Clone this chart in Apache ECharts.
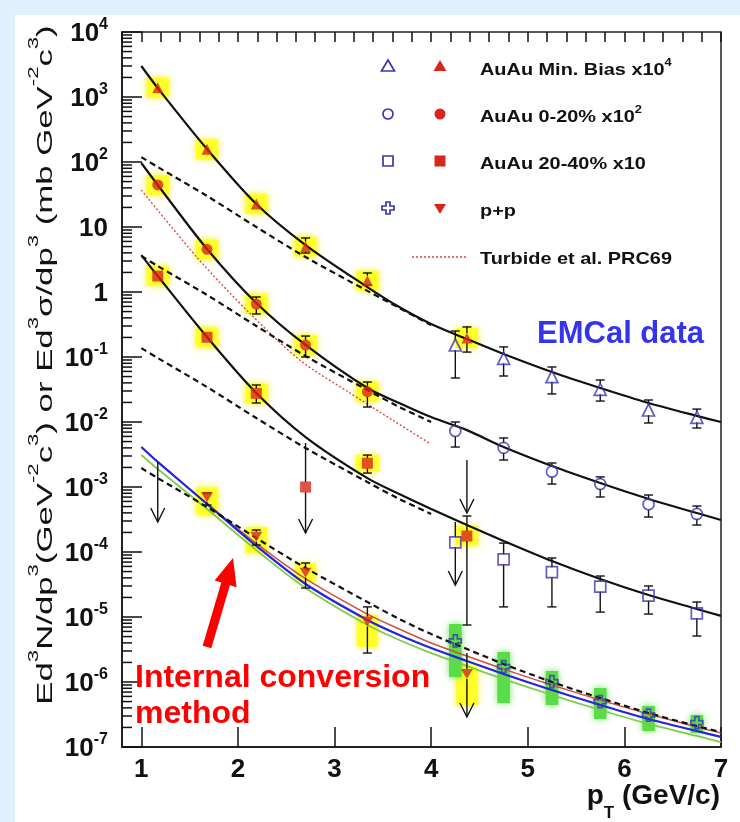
<!DOCTYPE html>
<html>
<head>
<meta charset="utf-8">
<script src="https://cdn.jsdelivr.net/npm/echarts@6/dist/echarts.min.js"></script>
<style>
html,body{margin:0;padding:0;background:#dff1fc;width:740px;height:822px;overflow:hidden;}
#frame{position:absolute;left:15px;top:15px;width:725px;height:807px;background:#fff;}
#chart{position:absolute;left:0;top:0;width:740px;height:822px;}
</style>
</head>
<body>
<div id="frame"></div>
<div id="chart"></div>
<script>
const FONT = '"Liberation Sans", Arial, Helvetica, sans-serif';

// ---- axis ticks ----
const xMajorTicks = [1, 2, 3, 4, 5, 6, 7];
const xMinorTicks = [0.8, 1.0, 1.2, 1.4, 1.6, 1.8, 2.0, 2.2, 2.4, 2.6, 2.8, 3.0, 3.2, 3.4, 3.6, 3.8,
                     4.0, 4.2, 4.4, 4.6, 4.8, 5.0, 5.2, 5.4, 5.6, 5.8, 6.0, 6.2, 6.4, 6.6, 6.8, 7.0];
const yDecades = [-7, -6, -5, -4, -3, -2, -1, 0, 1, 2, 3, 4];
const yMinorMantissa = [2, 3, 4, 5, 6, 7, 8, 9];

// ---- pT bins ----
const ptIC = [1.17, 1.68, 2.19, 2.70, 3.34, 4.37];   // internal conversion
const ptEM = [4.25, 4.75, 5.25, 5.75, 6.25, 6.75];   // EMCal

// ---- Au+Au min. bias x10^4 ----
const mbIC    = [1390, 157, 22.6, 4.98, 1.49, 0.196];
const mbICHi  = [null, null, null, 6.78, 1.96, 0.29];
const mbICLo  = [null, null, null, 3.98, 1.28, 0.119];
const mbICSys = [1.42, 1.42, 1.42, 1.42, 1.42, 1.42];
const mbEM    = [0.153, 0.0955, 0.0498, 0.0318, 0.0153, 0.0118];
const mbEMHi  = [0.251, 0.143, 0.0702, 0.0443, 0.0218, 0.0158];
const mbEMLo  = [0.0475, 0.051, 0.027, 0.021, 0.00966, 0.00809];

// ---- Au+Au 0-20% x10^2 ----
const c0IC    = [44.3, 4.54, 0.653, 0.153, 0.0293, null];
const c0ICHi  = [null, null, 0.838, 0.21, 0.0412, 0.0026];
const c0ICLo  = [null, null, 0.459, 0.1, 0.017, 0.000398];
const c0ICLim = [false, false, false, false, false, true];
const c0ICSys = [1.42, 1.42, 1.42, 1.42, 1.42, null];
const c0EM    = [0.00727, 0.0040, 0.00172, 0.00111, 0.000542, 0.000385];
const c0EMHi  = [0.0100, 0.00568, 0.00234, 0.00143, 0.000753, 0.00051];
const c0EMLo  = [0.00412, 0.0026, 0.00111, 0.000702, 0.000345, 0.00026];

// ---- Au+Au 20-40% x10 ----
const c2IC    = [1.76, 0.201, 0.0276, 0.0010, 0.00232, 0.000176];
const c2ICHi  = [null, null, 0.0371, 0.00475, 0.0031, 0.000358];
const c2ICLo  = [null, null, 0.0196, 0.000196, 0.00164, 0.00000753];
const c2ICLim = [false, false, false, true, false, false];
const c2ICSys = [1.42, 1.42, 1.42, null, 1.35, 1.42];
const c2EM    = [0.000141, 0.000077, 0.000049, 0.0000293, 0.0000213, 0.0000114];
const c2EMHi  = [0.00029, 0.000137, 0.0000809, 0.0000427, 0.000030, 0.000017];
const c2EMLo  = [0.000031, 0.0000143, 0.0000143, 0.0000119, 0.0000111, 0.0000051];
const c2EMLim = [true, false, false, false, false, false];

// ---- p+p ----
const ppIC     = [null, 6.95e-4, 1.72e-4, 4.8e-5, 8.5e-6, 1.33e-6];
const ppICHi   = [2.43e-3, 8.09e-4, 2.18e-4, 6.78e-5, 1.43e-5, 2.79e-6];
const ppICLo   = [2.9e-4, 5.28e-4, 1.28e-4, 2.79e-5, 2.79e-6, 2.9e-7];
const ppICLim  = [true, false, false, false, false, true];
const ppICSysHi = [null, 1.0e-3, 2.43e-4, 6.78e-5, 1.07e-5, 1.83e-6];
const ppICSysLo = [null, 3.71e-4, 9.66e-5, 3.45e-5, 3.45e-6, 4.43e-7];
const ppEM      = [4.3e-6, 1.72e-6, 1.01e-6, 4.98e-7, 3.1e-7, 2.37e-7];
const ppEMSysHi = [7.8e-6, 2.9e-6, 1.48e-6, 8.09e-7, 4.27e-7, 3.1e-7];
const ppEMSysLo = [1.19e-6, 4.75e-7, 4.43e-7, 2.7e-7, 1.76e-7, 1.64e-7];

// ---- fits and calculations ----
const fitPtA = [1.0, 1.17, 1.68, 2.19, 2.70, 3.34, 3.67, 4.0, 4.37, 4.75, 5.25, 5.75, 6.25, 6.75, 7.0];
const mbFit  = [3000, 1374, 158, 22.6, 5.28, 1.19, 0.587, 0.322, 0.189, 0.111, 0.0587, 0.0333, 0.0196, 0.0124, 0.0100];
const c0Fit  = [96.5, 44.3, 4.59, 0.678, 0.153, 0.0333, 0.0196, 0.0119, 0.0075, 0.00412, 0.0021, 0.00115, 0.000653, 0.000398, 0.00031];
const c2Fit  = [3.7, 1.76, 0.203, 0.0279, 0.00587, 0.00137, 0.00078, 0.000459, 0.00026, 0.000148, 0.0000727, 0.0000385, 0.0000218, 0.0000133, 0.0000104];

const scaledPt = [1.0, 1.17, 1.68, 2.19, 2.70, 3.34, 3.67, 4.0];
const mbPpScaled = [119, 83.8, 30.0, 10.0, 3.45, 1.04, 0.568, 0.31];
const c0PpScaled = [3.58, 2.51, 0.9, 0.3, 0.1035, 0.031, 0.017, 0.0100];
const c2PpScaled = [0.137, 0.0966, 0.0345, 0.0115, 0.00398, 0.00119, 0.000653, 0.000385];

const ppFit   = [1.96e-3, 1.37e-3, 4.92e-4, 1.64e-4, 5.68e-5, 1.70e-5, 9.31e-6, 5.47e-6, 3.22e-6, 1.89e-6, 1.0e-6, 5.68e-7, 3.33e-7, 2.10e-7, 1.70e-7];
const nloBlue = [4.12e-3, 2.43e-3, 5.47e-4, 1.24e-4, 3.22e-5, 9.0e-6, 5.28e-6, 3.33e-6, 2.10e-6, 1.33e-6, 7.53e-7, 4.43e-7, 2.70e-7, 1.76e-7, 1.43e-7];
const nloGreen = [3.11e-3, 1.89e-3, 4.59e-4, 1.07e-4, 2.79e-5, 7.53e-6, 4.43e-6, 2.79e-6, 1.76e-6, 1.11e-6, 6.31e-7, 3.71e-7, 2.26e-7, 1.48e-7, 1.19e-7];
const nloRed  = [4.12e-3, 2.43e-3, 5.6e-4, 1.36e-4, 3.9e-5, 1.11e-5, 6.53e-6, 3.98e-6, 2.51e-6, 1.58e-6, 8.99e-7, 5.28e-7, 3.22e-7, 2.03e-7, 1.64e-7];

const turbidePt = [1.0, 1.6, 2.12, 2.64, 3.16, 3.6, 3.98];
const turbide   = [37.1, 3.10, 0.475, 0.09, 0.0279, 0.0107, 0.00475];

// ---- colours ----
const RED = '#d9261c';
const BLUE = '#3a36b0';
const BLACK = '#111';

// ---- helpers ----
const X_MIN = 0.8;

function pairs(xs, ys) {
  const out = [];
  xs.forEach((x, i) => { if (ys[i] != null) out.push([x, ys[i]]); });
  return out;
}

function errItems(xs, vals, his, los, lims) {
  const out = [];
  xs.forEach((x, i) => {
    if (his[i] == null) return;
    const v = vals[i];
    out.push([x, los[i], his[i], v == null ? his[i] : v, v == null ? 0 : 1, lims && lims[i] ? 1 : 0]);
  });
  return out;
}

function sysFactorItems(xs, vals, fac) {
  const out = [];
  xs.forEach((x, i) => { if (vals[i] != null && fac[i] != null) out.push([x, vals[i] / fac[i], vals[i] * fac[i]]); });
  return out;
}

function sysRangeItems(xs, lo, hi) {
  const out = [];
  xs.forEach((x, i) => { if (lo[i] != null) out.push([x, lo[i], hi[i]]); });
  return out;
}

function seg(x1, y1, x2, y2) {
  return { type: 'line', shape: { x1, y1, x2, y2 }, style: { stroke: BLACK, lineWidth: 1.4 } };
}

function renderErr(params, api) {
  const x = api.value(0), lo = api.value(1), hi = api.value(2), v = api.value(3);
  const hasMark = api.value(4), lim = api.value(5);
  const pT = api.coord([x, hi]), pB = api.coord([x, lo]), pV = api.coord([x, v]);
  const cx = pT[0];
  const gap = 5;
  const kids = [];
  if (hasMark) {
    if (pV[1] - gap > pT[1]) kids.push(seg(cx, pT[1], cx, pV[1] - gap));
    if (pV[1] + gap < pB[1]) kids.push(seg(cx, pV[1] + gap, cx, pB[1]));
  } else {
    kids.push(seg(cx, pT[1], cx, pB[1]));
  }
  if (lim) {
    kids.push({ type: 'polyline', shape: { points: [[cx - 7, pB[1] - 14], [cx, pB[1]], [cx + 7, pB[1] - 14]] },
                style: { stroke: BLACK, lineWidth: 1.4, fill: null } });
  } else {
    kids.push(seg(cx - 4.5, pT[1], cx + 4.5, pT[1]));
    kids.push(seg(cx - 4.5, pB[1], cx + 4.5, pB[1]));
  }
  return { type: 'group', children: kids };
}

function boxRenderer(halfWidth, fill, glow) {
  return function (params, api) {
    const x = api.value(0), lo = api.value(1), hi = api.value(2);
    const a = api.coord([x - halfWidth, hi]), b = api.coord([x + halfWidth, lo]);
    return { type: 'rect', shape: { x: a[0], y: a[1], width: b[0] - a[0], height: b[1] - a[1] },
             style: { fill, shadowBlur: 7, shadowColor: glow } };
  };
}

function errSeries(data) {
  return { type: 'custom', data, renderItem: renderErr, z: 4, silent: true, clip: false,
           encode: { x: 0, y: [1, 2] } };
}
function boxSeries(data, hw, fill, glow) {
  return { type: 'custom', data, renderItem: boxRenderer(hw, fill, glow), z: 1, silent: true,
           encode: { x: 0, y: [1, 2] } };
}
function curve(xs, ys, color, width, type) {
  return { type: 'line', data: pairs(xs, ys), symbol: 'none', smooth: 0.3,
           lineStyle: { color, width, type }, z: 2, silent: true };
}
function marks(data, symbol, size, filled, color, rotate) {
  return { type: 'scatter', data, symbol, symbolSize: size, symbolRotate: rotate || 0, z: 6, silent: true,
           itemStyle: filled ? { color, borderWidth: 0 } : { color: 'rgba(255,255,255,0)', borderColor: color, borderWidth: 1.7 } };
}

const CROSS = 'path://M4,0 L8,0 L8,4 L12,4 L12,8 L8,8 L8,12 L4,12 L4,8 L0,8 L0,4 L4,4 Z';
const DOWN_TRI = 'path://M0,0 L12,0 L6,10 Z';

// y-axis minor tick positions (2..9 x 10^n)
const yMinorItems = [];
yDecades.slice(0, -1).forEach(d => yMinorMantissa.forEach(m => yMinorItems.push([X_MIN, m * Math.pow(10, d)])));

const supRich = (size, col) => ({
  b: { fontSize: size, fontWeight: 'bold', fontFamily: FONT, color: col, lineHeight: size + 4, verticalAlign: 'bottom' },
  s: { fontSize: Math.round(size * 0.62), fontWeight: 'bold', fontFamily: FONT, color: col, lineHeight: Math.round(size * 0.62), verticalAlign: 'top' }
});

// ---- graphic decorations: legend, annotations, titles ----
function legendText(y, rich) {
  return { type: 'text', x: 480, y, scaleX: 1.17, z: 20,
           style: { text: rich, fill: BLACK, font: 'bold 17px ' + FONT, textVerticalAlign: 'middle',
                    rich: { n: { fill: BLACK, font: 'bold 17px ' + FONT, lineHeight: 22, verticalAlign: 'bottom' },
                            s: { fill: BLACK, font: 'bold 11px ' + FONT, lineHeight: 11, verticalAlign: 'top' } } } };
}
const openSt = { fill: 'none', stroke: BLUE, lineWidth: 1.7 };
const fillSt = { fill: RED };

// arrow pointing to the internal-conversion points
const arrowPts = [[211.3, 648.3], [229.9, 585.2], [236.6, 587.2], [233, 558], [214.6, 580.6], [221.3, 582.6], [202.7, 645.7]];

const titleRich = {
  n: { fill: BLACK, font: '22px ' + FONT, lineHeight: 30, verticalAlign: 'bottom' },
  s: { fill: BLACK, font: '14px ' + FONT, lineHeight: 14, verticalAlign: 'top' }
};

const graphics = [
  // legend markers
  { type: 'polygon', shape: { points: [[388, 60], [394.5, 71], [381.5, 71]] }, style: openSt, z: 20 },
  { type: 'polygon', shape: { points: [[440, 60], [446.5, 71], [433.5, 71]] }, style: fillSt, z: 20 },
  { type: 'circle', shape: { cx: 388, cy: 114, r: 5 }, style: openSt, z: 20 },
  { type: 'circle', shape: { cx: 440, cy: 114, r: 5.5 }, style: fillSt, z: 20 },
  { type: 'rect', shape: { x: 383, y: 156, width: 10, height: 10 }, style: openSt, z: 20 },
  { type: 'rect', shape: { x: 434.5, y: 155.5, width: 11, height: 11 }, style: fillSt, z: 20 },
  { type: 'polygon', shape: { points: [[386, 202], [390, 202], [390, 206], [394, 206], [394, 210], [390, 210], [390, 214], [386, 214], [386, 210], [382, 210], [382, 206], [386, 206]] }, style: openSt, z: 20 },
  { type: 'polygon', shape: { points: [[434, 204], [446, 204], [440, 214]] }, style: fillSt, z: 20 },
  { type: 'line', shape: { x1: 412, y1: 257, x2: 467, y2: 257 }, style: { stroke: '#d84040', lineWidth: 1.3, lineDash: [2, 2] }, z: 20 },
  legendText(68, '{n|AuAu Min. Bias x10}{s|4}'),
  legendText(115, '{n|AuAu 0-20% x10}{s|2}'),
  legendText(162, '{n|AuAu 20-40% x10}'),
  legendText(209, '{n|p+p}'),
  legendText(257, '{n|Turbide et al. PRC69}'),
  // annotations
  { type: 'text', x: 537, y: 334, z: 20, style: { text: 'EMCal data', fill: '#3434ee', font: 'bold 31px ' + FONT, textVerticalAlign: 'middle' } },
  { type: 'text', x: 135, y: 678, z: 20, style: { text: 'Internal conversion', fill: '#ff0000', font: 'bold 32px ' + FONT, textVerticalAlign: 'middle' } },
  { type: 'text', x: 135, y: 714, z: 20, style: { text: 'method', fill: '#ff0000', font: 'bold 32px ' + FONT, textVerticalAlign: 'middle' } },
  { type: 'polygon', shape: { points: arrowPts }, style: { fill: '#ff0000' }, z: 20 },
  // axis titles
  { type: 'text', x: 42, y: 365, rotation: Math.PI / 2, scaleX: 1.58, z: 20,
    style: { text: '{n|Ed}{s|3}{n|N/dp}{s|3}{n|(GeV}{s|-2}{n|c}{s|3}{n|) or Ed}{s|3}{n|σ/dp}{s|3}{n| (mb GeV}{s|-2}{n|c}{s|3}{n|)}',
             rich: titleRich, textAlign: 'center', textVerticalAlign: 'middle' } },
  { type: 'text', x: 720, y: 802, z: 20,
    style: { text: '{n|p}{t|T}{n| (GeV/c)}', textAlign: 'right', textVerticalAlign: 'middle',
             rich: { n: { fill: BLACK, font: 'bold 28px ' + FONT, lineHeight: 40, verticalAlign: 'top' },
                     t: { fill: BLACK, font: 'bold 17px ' + FONT, lineHeight: 17, verticalAlign: 'bottom' } } } }
];

const option = {
  animation: false,
  backgroundColor: 'transparent',
  grid: { left: 122, top: 32, width: 599, height: 715, show: true, borderColor: '#222', borderWidth: 1.5, backgroundColor: 'transparent' },
  xAxis: [
    { type: 'value', min: X_MIN, max: 7.0,
      axisLine: { lineStyle: { color: BLACK, width: 1.5 } },
      axisTick: { inside: true, length: 20, customValues: xMajorTicks, lineStyle: { color: BLACK, width: 1.5 } },
      axisLabel: { customValues: xMajorTicks, margin: 10, color: BLACK, fontSize: 26, fontWeight: 'bold', fontFamily: FONT,
                   formatter: v => String(v) },
      splitLine: { show: false } },
    { type: 'value', min: X_MIN, max: 7.0,
      axisLine: { show: false },
      axisTick: { inside: true, length: 10, customValues: xMinorTicks, lineStyle: { color: BLACK, width: 1.5 } },
      axisLabel: { show: false },
      splitLine: { show: false } }
  ],
  yAxis: {
    type: 'log', logBase: 10, min: 1e-7, max: 1e4, interval: 1,
    axisLine: { lineStyle: { color: BLACK, width: 1.5 } },
    axisTick: { inside: true, length: 20, lineStyle: { color: BLACK, width: 1.5 } },
    axisLabel: {
      margin: 14, showMinLabel: true, showMaxLabel: true,
      formatter: v => {
        const n = Math.round(Math.log10(v));
        if (n === 0) return '{b|1}';
        if (n === 1) return '{b|10}';
        return '{b|10}{s|' + n + '}';
      },
      rich: supRich(26, BLACK)
    },
    splitLine: { show: false }
  },
  graphic: graphics,
  series: [
    // y-axis minor ticks
    { type: 'custom', data: yMinorItems, silent: true, z: 3, clip: false, encode: { x: 0, y: 1 },
      renderItem: (params, api) => {
        const p = api.coord([api.value(0), api.value(1)]);
        return { type: 'line', shape: { x1: p[0], y1: p[1], x2: p[0] + 10, y2: p[1] }, style: { stroke: BLACK, lineWidth: 1.5 } };
      } },

    // systematic boxes
    boxSeries(sysFactorItems(ptIC, mbIC, mbICSys), 0.115, '#ffff2a', 'rgba(255,240,0,0.9)'),
    boxSeries(sysFactorItems(ptIC, c0IC, c0ICSys), 0.115, '#ffff2a', 'rgba(255,240,0,0.9)'),
    boxSeries(sysFactorItems(ptIC, c2IC, c2ICSys), 0.115, '#ffff2a', 'rgba(255,240,0,0.9)'),
    boxSeries(sysRangeItems(ptIC, ppICSysLo, ppICSysHi), 0.11, '#ffff2a', 'rgba(255,240,0,0.9)'),
    boxSeries(sysRangeItems(ptEM, ppEMSysLo, ppEMSysHi), 0.065, '#58dc48', 'rgba(80,220,60,0.8)'),

    // calculations and fits
    curve(turbidePt, turbide, '#d84040', 1.3, [2, 2]),
    curve(fitPtA, nloGreen, '#7ccc4a', 1.8, 'solid'),
    curve(fitPtA, nloRed, '#d05040', 1.5, 'solid'),
    curve(fitPtA, nloBlue, '#2424e0', 2.2, 'solid'),
    curve(fitPtA, ppFit, BLACK, 2.2, [6, 4]),
    curve(scaledPt, mbPpScaled, BLACK, 2.2, [6, 4]),
    curve(scaledPt, c0PpScaled, BLACK, 2.2, [6, 4]),
    curve(scaledPt, c2PpScaled, BLACK, 2.2, [6, 4]),
    curve(fitPtA, mbFit, BLACK, 2.2, 'solid'),
    curve(fitPtA, c0Fit, BLACK, 2.2, 'solid'),
    curve(fitPtA, c2Fit, BLACK, 2.2, 'solid'),

    // error bars and limits
    errSeries(errItems(ptIC, mbIC, mbICHi, mbICLo)),
    errSeries(errItems(ptEM, mbEM, mbEMHi, mbEMLo)),
    errSeries(errItems(ptIC, c0IC, c0ICHi, c0ICLo, c0ICLim)),
    errSeries(errItems(ptEM, c0EM, c0EMHi, c0EMLo)),
    errSeries(errItems(ptIC, c2IC, c2ICHi, c2ICLo, c2ICLim)),
    errSeries(errItems(ptEM, c2EM, c2EMHi, c2EMLo, c2EMLim)),
    errSeries(errItems(ptIC, ppIC, ppICHi, ppICLo, ppICLim)),

    // data points
    marks(pairs(ptIC, mbIC), 'triangle', 11, true, RED),
    marks(pairs(ptIC, c0IC), 'circle', 11, true, RED),
    marks(pairs(ptIC, c2IC), 'rect', 11, true, RED),
    marks(pairs(ptIC, ppIC), DOWN_TRI, [12, 10], true, RED),
    marks(pairs(ptEM, mbEM), 'triangle', 12, false, BLUE),
    marks(pairs(ptEM, c0EM), 'circle', 11, false, BLUE),
    marks(pairs(ptEM, c2EM), 'rect', 11, false, BLUE),
    marks(pairs(ptEM, ppEM), CROSS, 12, false, BLUE)
  ]
};

const chart = echarts.init(document.getElementById('chart'), null, { renderer: 'canvas' });
chart.setOption(option);
</script>
</body>
</html>
